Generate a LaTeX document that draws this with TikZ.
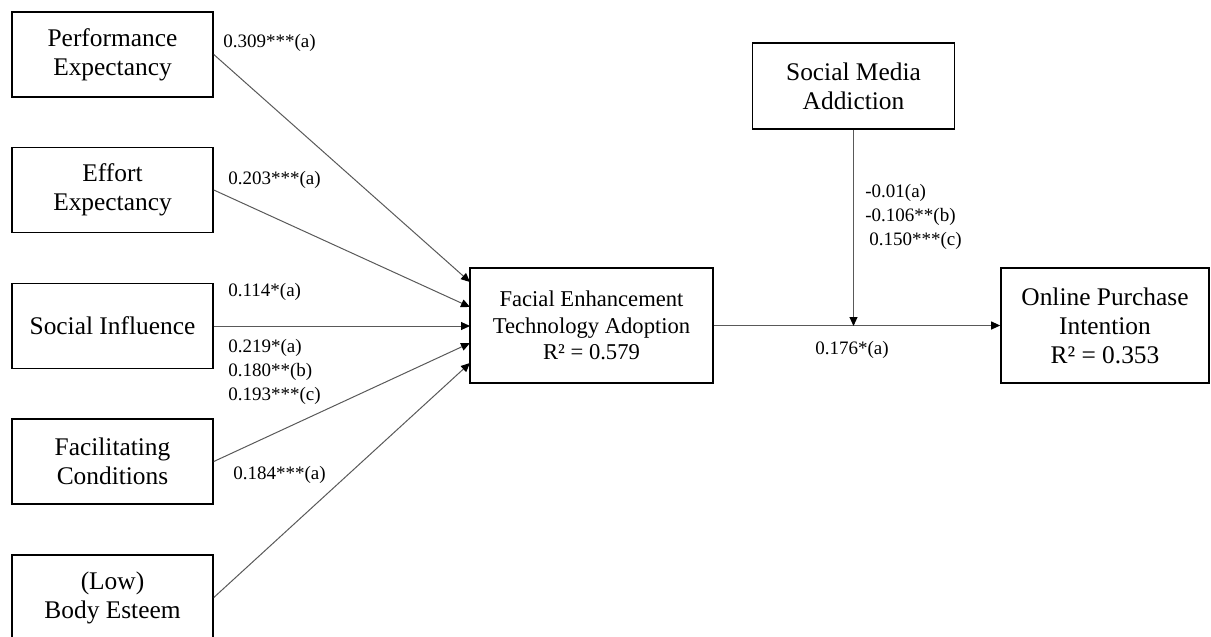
\documentclass[tikz,border=0pt]{standalone}
\usepackage{fontspec}
\setmainfont{Liberation Serif}
\usetikzlibrary{arrows.meta}
\tikzset{
  varbox/.style={draw=black, line width=0.8pt, align=center, inner sep=0pt,
    minimum width=100.5pt, minimum height=42.5pt, font=\fontsize{12.7}{14.5}\selectfont},
  path/.style={draw=black!65, line width=0.5pt, -{Triangle[length=4.5pt,width=4pt,color=black]}},
  coef/.style={anchor=west, inner sep=0pt, align=left, font=\fontsize{9.5}{11.8}\selectfont}
}

\begin{document}
\begin{tikzpicture}[x=0.5pt, y=-0.5pt]
			%%%%% START %%%%%
			\useasboundingbox (0, 0) rectangle (1211, 637);
			
			% predictors
			\node[varbox] (perf) at (112.5, 54.5) {Performance\\Expectancy};
			\node[varbox] (effort) at (112.5, 190) {Effort\\Expectancy};
			\node[varbox] (social) at (112.5, 326) {Social Influence};
			\node[varbox] (facil) at (112.5, 461.5) {Facilitating\\Conditions};
			\node[varbox] (body) at (112.5, 597.5) {(Low)\\Body Esteem};
			
			% adoption, moderator and outcome
			\node[varbox, minimum width=121.5pt, minimum height=57.5pt,
			  font=\fontsize{11.3}{13.4}\selectfont] (feta) at (591.5, 325.5)
			  {Facial Enhancement\\Technology Adoption\\R² = 0.579};
			\node[varbox, minimum width=101pt, minimum height=43pt] (addict) at (853.5, 86) {Social Media\\Addiction};
			\node[varbox, minimum width=104pt, minimum height=57.5pt] (intent) at (1105, 325.5) {Online Purchase\\Intention\\R² = 0.353};
			
			\coordinate (inA) at (470, 282);
			\coordinate (inB) at (470, 307);
			\coordinate (inC) at (470, 326);
			\coordinate (inD) at (470, 343);
			\coordinate (inE) at (470, 363);
			\coordinate (moder) at (853.5, 326);
			
			\draw[path] (perf.east) -- (inA);
			\draw[path] (effort.east) -- (inB);
			\draw[path] (social.east) -- (inC);
			\draw[path] (facil.east) -- (inD);
			\draw[path] (body.east) -- (inE);
			\draw[path] (feta.east) -- (intent.west);
			\draw[path] (addict.south) -- (moder);
			
			% coefficients
			\node[coef] (cPerf) at (223, 43) {0.309***(a)};
			\node[coef] (cEffort) at (228, 180) {0.203***(a)};
			\node[coef] (cSocial) at (228, 292) {0.114*(a)};
			\node[coef] (cFacil) at (228, 372) {0.219*(a)\\0.180**(b)\\0.193***(c)};
			\node[coef] (cBody) at (233, 475) {0.184***(a)};
			\node[coef] (cAddict) at (865, 217) {-0.01(a)\\-0.106**(b)\\\hspace{2pt}0.150***(c)};
			\node[coef, anchor=center] (cIntent) at (852, 350) {0.176*(a)};
			
			%%%%% END %%%%%
\end{tikzpicture}
\end{document}
